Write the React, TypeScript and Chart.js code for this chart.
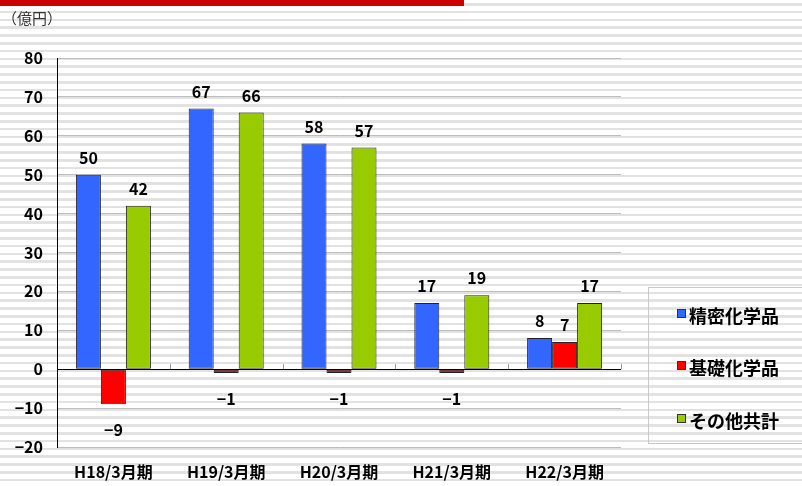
import React, { useEffect, useRef } from "react";
import { Chart, registerables } from "chart.js";
Chart.register(...registerables);

const categories = ["H18/3月期", "H19/3月期", "H20/3月期", "H21/3月期", "H22/3月期"];
const seriesNames = ["精密化学品", "基礎化学品", "その他共計"];
const fineChemicals = [50, 67, 58, 17, 8];
const basicChemicals = [-9, -1, -1, -1, 7];
const otherTotal = [42, 66, 57, 19, 17];
const seriesColors = ["#3366FF", "#FF0000", "#99CC00"];
const yMin = -20;
const yMax = 80;
const yStep = 10;
const unitLabel = "（億円）";

const FONT = "'Noto Sans CJK JP', 'Liberation Sans', sans-serif";

const decor = {
  id: "decor",
  beforeDraw(chart: any) {
    const ctx = chart.ctx;
    ctx.save();
    ctx.fillStyle = "#CC0000";
    ctx.fillRect(0, 0, 464, 6);
    ctx.fillStyle = "#333";
    ctx.font = `15px ${FONT}`;
    ctx.textAlign = "left";
    ctx.textBaseline = "middle";
    ctx.fillText(unitLabel, 2, 18);
    ctx.restore();
  },
  afterDatasetsDraw(chart: any) {
    const ctx = chart.ctx;
    const area = chart.chartArea;
    const y0 = chart.scales.y.getPixelForValue(0);
    ctx.save();
    ctx.strokeStyle = "#999";
    ctx.lineWidth = 1;
    const n = categories.length;
    const w = (area.right - area.left) / n;
    for (let k = 1; k <= n; k++) {
      const x = Math.round(area.left + w * k) + 0.5;
      ctx.beginPath();
      ctx.moveTo(x, y0 - 5);
      ctx.lineTo(x, y0);
      ctx.stroke();
    }
    ctx.strokeStyle = "#000";
    ctx.beginPath();
    ctx.moveTo(area.left, Math.round(y0) + 0.5);
    ctx.lineTo(area.right, Math.round(y0) + 0.5);
    ctx.stroke();
    ctx.fillStyle = "#000";
    ctx.font = `bold 16px ${FONT}`;
    ctx.textAlign = "center";
    ctx.textBaseline = "middle";
    chart.data.datasets.forEach((ds: any, i: number) => {
      const meta = chart.getDatasetMeta(i);
      meta.data.forEach((el: any, j: number) => {
        const v = ds.data[j];
        const text = v < 0 ? "−" + Math.abs(v) : String(v);
        const y = v >= 0 ? el.y - 17 : el.y + 26;
        ctx.fillText(text, el.x, y);
      });
    });
    ctx.restore();
  },
  afterDraw(chart: any) {
    const ctx = chart.ctx;
    ctx.save();
    ctx.strokeStyle = "#c8c8c8";
    ctx.lineWidth = 1;
    ctx.strokeRect(648.5, 287.5, 170, 156);
    const rows = [316, 368, 421];
    chart.data.datasets.forEach((ds: any, i: number) => {
      const cy = rows[i];
      ctx.fillStyle = ds.backgroundColor;
      ctx.fillRect(677, cy - 7, 9, 9);
      ctx.strokeStyle = "#333";
      ctx.strokeRect(677.5, cy - 6.5, 8, 8);
      ctx.fillStyle = "#000";
      ctx.font = `bold 18px ${FONT}`;
      ctx.textAlign = "left";
      ctx.textBaseline = "middle";
      ctx.fillText(ds.label, 689, cy);
    });
    ctx.restore();
  },
};

export default function App() {
  const ref = useRef<HTMLCanvasElement>(null);
  useEffect(() => {
    if (!ref.current) return;
    const seriesData = [fineChemicals, basicChemicals, otherTotal];
    const chart = new Chart(ref.current, {
      type: "bar",
      data: {
        labels: categories,
        datasets: seriesNames.map((name, i) => ({
          label: name,
          data: seriesData[i],
          backgroundColor: seriesColors[i],
          borderColor: "#222",
          borderWidth: 1,
          borderSkipped: false,
          barPercentage: 1,
          categoryPercentage: 0.665,
        })),
      },
      options: {
        responsive: false,
        animation: false,
        layout: { padding: { left: 0, right: 181, top: 58, bottom: 0 } },
        plugins: { legend: { display: false }, tooltip: { enabled: false } },
        scales: {
          x: {
            grid: { display: false, drawTicks: false },
            border: { display: false },
            ticks: { color: "#000", font: { family: FONT, size: 16, weight: "bold" }, padding: 15, maxRotation: 0 },
            afterFit: (s: any) => { s.height = 39; },
          },
          y: {
            min: yMin,
            max: yMax,
            ticks: { stepSize: yStep, color: "#000", padding: 14, font: { family: FONT, size: 16, weight: "bold" },
              callback: (v: any) => (Number(v) < 0 ? "−" + Math.abs(Number(v)) : String(v)) },
            grid: { drawTicks: false, color: (c: any) => (c.tick && c.tick.value === 0 ? "#000" : "#bdbdbd") },
            border: { display: true, color: "#000", width: 1 },
            afterFit: (s: any) => { s.width = 57; },
          },
        },
      },
      plugins: [decor],
    });
    return () => chart.destroy();
  }, []);
  return (
    <div
      style={{
        position: "absolute",
        left: 0,
        top: 0,
        width: 802,
        height: 486,
        background:
          "repeating-linear-gradient(to bottom, #ffffff 0px, #ffffff 3px, #e2e2e2 3px, #e2e2e2 5.6px, #ffffff 5.6px, #ffffff 7.8px)",
      }}
    >
      <canvas ref={ref} width={802} height={486} style={{ display: "block" }} />
    </div>
  );
}
